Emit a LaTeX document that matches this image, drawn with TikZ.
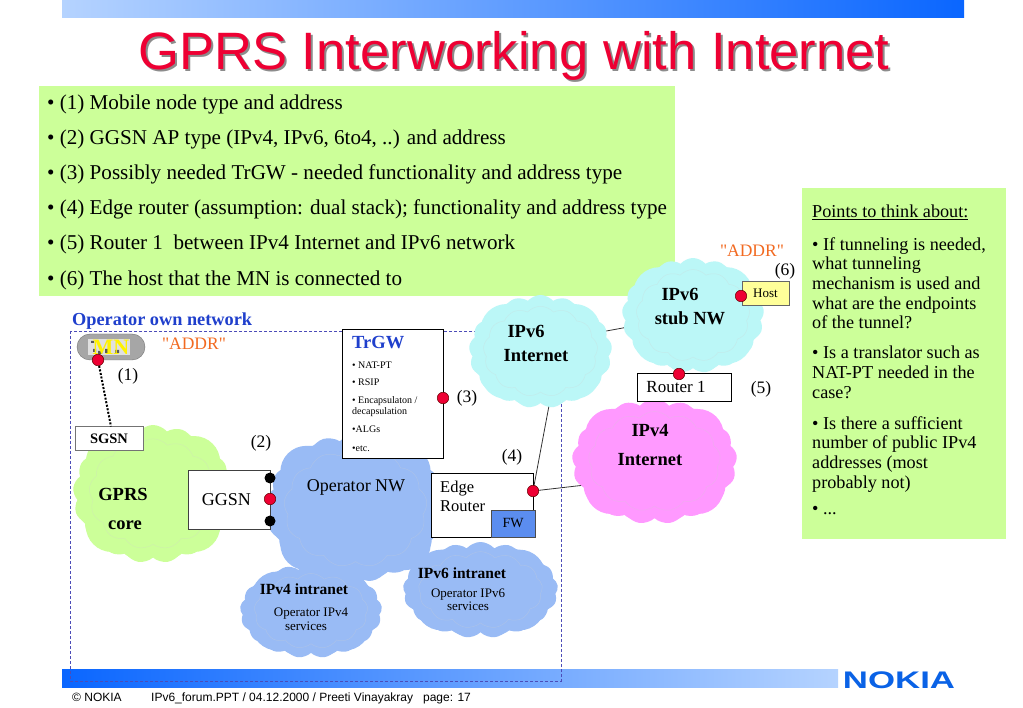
\documentclass[tikz,border=0pt]{standalone}
\usepackage{fontspec}
\setmainfont{Liberation Serif}
\newfontfamily\plainserif{Liberation Serif}
\newfontfamily\arialf{Liberation Sans}
\usetikzlibrary{shapes.symbols,backgrounds,shadings}
\pgfdeclarelayer{baselayer}
\pgfdeclarelayer{linklayer}
\pgfsetlayers{baselayer,linklayer,main}
\definecolor{boxgreen}{HTML}{CCFF99}
\definecolor{cgreen}{HTML}{CCFF99}
\definecolor{cblue}{HTML}{99BBF5}
\definecolor{ccyan}{HTML}{BBF7F7}
\definecolor{cpink}{HTML}{FF99FF}
\definecolor{hiblue}{HTML}{1F3FCC}
\definecolor{orangeaddr}{HTML}{F26A21}
\definecolor{reddot}{HTML}{EE0033}
\definecolor{barblue}{HTML}{0A66FF}
\definecolor{barlight}{HTML}{B5D3FF}
\definecolor{logoblue}{HTML}{0A62E6}
\definecolor{fwblue}{HTML}{5B8DEF}
\definecolor{hostyellow}{HTML}{FFFF99}
\newcommand{\fs}[1]{\fontsize{#1}{#1}\selectfont}
\tikzset{
  x=1pt,y=-1pt,
  netcloud/.style={cloud,cloud puffs=#1,cloud puff arc=100,aspect=1.25,inner sep=0pt,outer sep=0pt},
  netcloud/.default=17,
  puffline/.style={cloud,cloud puffs=13,cloud puff arc=95,aspect=1.25,inner sep=0pt,draw=black!18,opacity=.3,line width=.5pt},
  whitebox/.style={draw=black!75,fill=white,line width=.8pt,inner sep=0pt,outer sep=0pt},
  reddotn/.style={circle,fill=reddot,draw=black!60!red,line width=.5pt,minimum size=11.5pt,inner sep=0pt},
  blackdot/.style={circle,fill=black,minimum size=11pt,inner sep=0pt},
  link/.style={draw=black!80,line width=.8pt},
  lab/.style={inner sep=0pt,anchor=base,font=\fs{17.5}},
  addr/.style={inner sep=0pt,anchor=base,text=orangeaddr,font=\plainserif\fs{17.5}},
  cloudt/.style={inner sep=0pt,anchor=base,font=\bfseries\fs{18.5}},
  bul/.style={inner sep=0pt,anchor=base west,font=\fs{21.1}},
  notes/.style={inner sep=0pt,anchor=north west,align=left,font=\fontsize{18.2}{19.7}\selectfont},
  trg/.style={inner sep=0pt,anchor=base west,font=\fs{10}},
}
\newcommand{\netcl}[6]{% name, colour, x1,y1,x2,y2
  \fill[#2,rounded corners=26pt] ({#3+(#5-#3)*.08},{#4+(#6-#4)*.08}) rectangle ({#5-(#5-#3)*.08},{#6-(#6-#4)*.08});
  \node[netcloud=13,fill=#2,shape border rotate=17,minimum width={(#5-#3)*.97pt},minimum height={(#6-#4)*.97pt}] (#1b) at ({(#3+#5)/2},{(#4+#6)/2}) {};
  \node[netcloud,fill=#2,minimum width={(#5-#3)*1pt},minimum height={(#6-#4)*1pt}] (#1) at ({(#3+#5)/2},{(#4+#6)/2}) {};
  \node[puffline,minimum width={(#5-#3)*.8pt},minimum height={(#6-#4)*.8pt}] (#1i) at ({(#3+#5)/2},{(#4+#6)/2}) {};
}
\begin{document}
\begin{tikzpicture}
\useasboundingbox (0,0) rectangle (1023,708);
\begin{pgfonlayer}{baselayer}
\fill[white] (0,0) rectangle (1023,708);
\path[left color=barlight,right color=barblue] (62,0) rectangle (964,18);
\path[left color=barblue,right color=barlight] (62,669) rectangle (838,687);
\fill[boxgreen] (39,86) rectangle (675,296);
\fill[boxgreen] (802,188) rectangle (1006,539);
\draw[blue!60!black!70,line width=.6pt,dash pattern=on 3pt off 2pt] (70,331) rectangle (561,681);
\end{pgfonlayer}
% title
\node[inner sep=0pt,anchor=base,text=black!45,font=\arialf\fs{52.6}] (titleshadow) at (516,71.5) {GPRS Interworking with Internet};
\node[inner sep=0pt,anchor=base,text=reddot,font=\arialf\fs{52.6}] (title) at (514,69.5) {GPRS Interworking with Internet};
% bullets
\node[bul] (b1) at (47,110) {• (1) Mobile node type and address};
\node[bul] (b2) at (47,145) {• (2) GGSN AP type (IPv4, IPv6, 6to4, ..) and address};
\node[bul] (b3) at (47,180) {• (3) Possibly needed TrGW - needed functionality and address type};
\node[bul] (b4) at (47,215) {• (4) Edge router (assumption: dual stack); functionality and address type};
\node[bul] (b5) at (47,250) {• (5) Router 1\ \ between IPv4 Internet and IPv6 network};
\node[bul] (b6) at (47,286) {• (6) The host that the MN is connected to};
% notes
\node[notes] (n0) at (812,205) {\underline{Points to think about:}};
\node[notes] (n1) at (812,237) {• If tunneling is needed,\\what tunneling\\mechanism is used and\\what are the endpoints\\of the tunnel?};
\node[notes] (n2) at (812,346) {• Is a translator such as\\NAT-PT needed in the\\case?};
\node[notes] (n3) at (812,416) {• Is there a sufficient\\number of public IPv4\\addresses (most\\probably not)};
\node[notes] (n4) at (812,506) {• ...};
\node[inner sep=0pt,anchor=base west,text=hiblue,font=\bfseries\fs{18.3}] (own) at (72,326) {Operator own network};
% clouds
\netcl{gprs}{cgreen}{73}{425}{233}{563}
\netcl{opnw}{cblue}{266}{434}{445}{582}
\netcl{v4intra}{cblue}{240}{564}{382}{658}
\netcl{v6intra}{cblue}{403}{542}{558}{638}
\netcl{v6inet}{ccyan}{469}{295}{612}{408}
\netcl{stub}{ccyan}{622}{258}{764}{373}
\netcl{v4inet}{cpink}{572}{399}{737}{524}
% cloud labels
\node[cloudt] (tg1) at (123,500) {GPRS};
\node[cloudt] (tg2) at (125,529) {core};
\node[inner sep=0pt,anchor=base,font=\fs{18}] (top) at (356,491) {Operator NW};
\node[cloudt] (ti1) at (526,338) {IPv6};
\node[cloudt] (ti2) at (536,362) {Internet};
\node[cloudt] (ts1) at (680,301) {IPv6};
\node[cloudt] (ts2) at (690,325) {stub NW};
\node[cloudt] (tp1) at (650,436) {IPv4};
\node[cloudt] (tp2) at (650,465) {Internet};
\node[inner sep=0pt,anchor=base,font=\bfseries\fs{15.5}] (t41) at (304,594) {IPv4 intranet};
\node[inner sep=0pt,anchor=base,font=\fs{13}] (t42) at (311,616) {Operator IPv4};
\node[inner sep=0pt,anchor=base,font=\fs{13}] (t43) at (306,630) {services};
\node[inner sep=0pt,anchor=base,font=\bfseries\fs{15.5}] (t61) at (462,578) {IPv6 intranet};
\node[inner sep=0pt,anchor=base,font=\fs{13}] (t62) at (468,597) {Operator IPv6};
\node[inner sep=0pt,anchor=base,font=\fs{13}] (t63) at (468,610) {services};
% boxes
\node[whitebox,draw=black!55,minimum width=68pt,minimum height=24pt,font=\bfseries\fs{14.5}] (sgsn) at (109,438.5) {SGSN};
\node[whitebox,minimum width=82pt,minimum height=59pt,font=\fs{18},text depth=0pt] (ggsn) at (229,500) {\hspace*{-5pt}GGSN};
\node[whitebox,draw=black,minimum width=101pt,minimum height=129pt] (trgw) at (392.5,394) {};
\node[inner sep=0pt,anchor=base west,text=hiblue,font=\bfseries\fs{18.5}] (trt) at (352,349) {TrGW};
\node[trg] (tr1) at (352,369) {• NAT-PT};
\node[trg] (tr2) at (352,386) {• RSIP};
\node[trg] (tr3) at (352,404) {• Encapsulaton /};
\node[trg] (tr4) at (352,415) {decapsulation};
\node[trg] (tr5) at (352,433) {•ALGs};
\node[trg] (tr6) at (352,451) {•etc.};
\node[whitebox,draw=black,minimum width=102pt,minimum height=64pt] (edge) at (482,505) {};
\node[inner sep=0pt,anchor=north west,align=left,font=\fontsize{16.5}{18.5}\selectfont] (edget) at (440,481) {Edge\\Router};
\node[whitebox,draw=black!70,fill=fwblue,minimum width=44pt,minimum height=27pt,font=\fs{14}] (fw) at (513,523.5) {FW};
\node[whitebox,draw=black,minimum width=94pt,minimum height=28pt,font=\fs{17}] (router) at (684,387) {\hspace*{-16pt}Router 1};
\node[whitebox,draw=black!60,fill=hostyellow,minimum width=47pt,minimum height=24pt,font=\fs{13}] (host) at (765.5,293) {Host};
% MN
\node[draw=black!55,fill=black!35,rounded corners=13pt,minimum width=68pt,minimum height=26pt,inner sep=0pt] (mn) at (111,347) {};
\fill[black!12] (88,339) rectangle (130,355);
\fill[black!65] (91,341) rectangle (94,343) (93,349) rectangle (96,352) (98,351) rectangle (102,354) (105,349) rectangle (108,353) (115,350) rectangle (119,353);
\node[inner sep=0pt,text=yellow,font=\bfseries\fs{22}] (mnt) at (111,347) {MN};
% dots
\node[reddotn] (dmn) at (98,360) {};
\node[blackdot] (dg1) at (270,478) {};
\node[reddotn] (dg2) at (270,499) {};
\node[blackdot] (dg3) at (270,521) {};
\node[reddotn] (dtr) at (443,398) {};
\node[reddotn] (ded) at (533,491) {};
\node[reddotn] (drt) at (679,374) {};
\node[reddotn] (dho) at (741,296) {};
% connectors
\draw[black,line width=2pt,dash pattern=on 2pt off 1.6pt] (dmn) -- (sgsn.north -| 111,0);
% labels
\node[lab] (l1) at (128,381) {(1)};
\node[lab] (l2) at (261,448) {(2)};
\node[lab] (l3) at (467,403) {(3)};
\node[lab] (l4) at (512,461) {(4)};
\node[lab] (l5) at (761,394) {(5)};
\node[lab] (l6) at (785,276) {(6)};
\node[addr] (a1) at (194,350) {"ADDR"};
\node[addr] (a2) at (752,257) {"ADDR"};
% footer
\node[inner sep=0pt,anchor=base west,font=\arialf\fs{12}] (f1) at (72,701) {© NOKIA};
\node[inner sep=0pt,anchor=base west,font=\arialf\fs{12}] (f2) at (151,701) {IPv6\_forum.PPT / 04.12.2000 / Preeti Vinayakray\ \ \ page: 17};
\node[inner sep=0pt,anchor=base,text=logoblue,font=\arialf\bfseries\fs{24},xscale=1.45] (logo) at (899,688) {NOKIA};
% links, behind the clouds
\coordinate (in6a) at (551,395);
\coordinate (in6b) at (590,334);
\coordinate (in4a) at (620,481);
\coordinate (stuba) at (650,323);
\coordinate (stubb) at (679,350);
\begin{pgfonlayer}{linklayer}
\draw[link] (ded.center) -- (in6a);
\draw[link] (ded.center) -- (in4a);
\draw[link] (in6b) -- (stuba);
\draw[link] (stubb) -- (drt.center);
\end{pgfonlayer}
\end{tikzpicture}
\end{document}
